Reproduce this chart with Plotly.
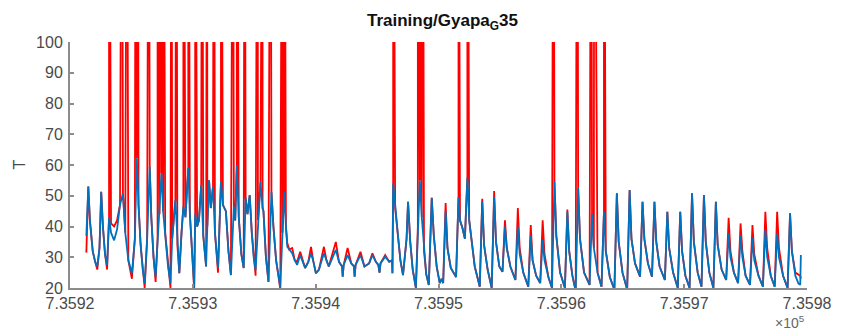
import plotly.graph_objects as go

DAY0 = 735920  # axis origin (serial day number)

x_tick_vals = [735920, 735930, 735940, 735950, 735960, 735970, 735980]
x_tick_text = ["7.3592", "7.3593", "7.3594", "7.3595", "7.3596", "7.3597", "7.3598"]
y_tick_vals = [20, 30, 40, 50, 60, 70, 80, 90, 100]

# (day offset, T) readings of the blue series
blue_seg1 = [
    (1.33, 37), (1.49, 53), (1.62, 42), (1.85, 32), (2.05, 28.5), (2.22, 27),
    (2.40, 33), (2.54, 51.3), (2.68, 40), (2.85, 31), (3.02, 27.5), (3.18, 43),
    (3.34, 38), (3.59, 35.5), (3.83, 39), (4.07, 47), (4.31, 50.8), (4.50, 38),
    (4.75, 29), (5.04, 24.8), (5.28, 36), (5.44, 62.2), (5.58, 47), (5.75, 34),
    (5.92, 26), (6.08, 21.6), (6.28, 36), (6.49, 59.4), (6.62, 43), (6.80, 30),
    (6.97, 23.7), (7.13, 36), (7.29, 44), (7.45, 57.4), (7.58, 45), (7.75, 38),
    (7.98, 27), (8.18, 21.6), (8.32, 36), (8.58, 48.6), (8.74, 34), (8.90, 24.8),
    (9.08, 38), (9.23, 46.5), (9.40, 43), (9.63, 59), (9.76, 44), (9.95, 30),
    (10.11, 20.4), (10.19, 44), (10.35, 40), (10.50, 42), (10.68, 53.5), (10.85, 37),
    (11.08, 27), (11.18, 40), (11.32, 55), (11.46, 46), (11.64, 53), (11.80, 38),
    (12.05, 26.5), (12.29, 54.6), (12.45, 47), (12.69, 45), (12.90, 32), (13.10, 24.2),
    (13.34, 46.5), (13.45, 42), (13.58, 60), (13.74, 43), (13.95, 31), (14.14, 26.5),
    (14.30, 49.3), (14.45, 44), (14.63, 50.2), (14.80, 38), (14.95, 30), (15.11, 25.8),
    (15.30, 42), (15.51, 54.6), (15.68, 46), (15.75, 45), (15.95, 30), (16.16, 22),
    (16.40, 51.3), (16.56, 40), (16.78, 29), (16.98, 23.5), (17.12, 20.4), (17.30, 38),
    (17.44, 51.3), (17.58, 40),
]

blue_gap = [
    (17.69, 33.4), (17.85, 32.5), (18.09, 31.3), (18.30, 29), (18.49, 27.5),
    (18.74, 30.7), (18.95, 28.5), (19.14, 26.5), (19.40, 28.5), (19.62, 31.3),
    (19.82, 28.5), (20.02, 24.8), (20.27, 26), (20.67, 31.3), (20.88, 29),
    (21.07, 27), (21.64, 32.4), (21.90, 28.5), (22.15, 27), (22.20, 23.7),
    (22.28, 27.5), (22.60, 30.7), (22.90, 28), (23.12, 27), (23.17, 23.7),
    (23.25, 27.5), (23.65, 30.7), (23.97, 27), (24.35, 28), (24.62, 30.7),
    (24.90, 28.5), (25.10, 27.5), (25.20, 25), (25.28, 28), (25.66, 30.2),
    (25.99, 28.5), (26.22, 29), (26.25, 24.8),
]

blue_seg3 = [
    (26.31, 54), (26.47, 46), (26.71, 36.7), (26.90, 29), (27.11, 24.2),
    (27.40, 36), (27.52, 48), (27.70, 35), (27.90, 26), (28.16, 20),
    (28.32, 40), (28.48, 55), (28.64, 43), (28.82, 32), (29.00, 24.5),
    (29.21, 21), (29.45, 49.3), (29.62, 37), (29.85, 27), (30.10, 21.6),
    (30.25, 23), (30.38, 21.6), (30.58, 45), (30.73, 33), (31.00, 26.5),
    (31.43, 23.6), (31.63, 49.6), (31.75, 42), (31.95, 39.5), (32.15, 36),
    (32.35, 56), (32.50, 42), (32.70, 36), (32.95, 27),
    (33.36, 20.4), (33.56, 48), (33.71, 34), (34.00, 26),
    (34.33, 20), (34.53, 49.7), (34.68, 35), (34.95, 27),
    (35.21, 25.3), (35.41, 40), (35.56, 33), (35.85, 27),
    (36.26, 22.6), (36.46, 40), (36.61, 31), (36.90, 25),
    (37.31, 20.4), (37.51, 37), (37.66, 29), (37.95, 24),
    (38.28, 21.6), (38.48, 35.6), (38.63, 29), (38.95, 23.5),
    (39.24, 20), (39.44, 54.6), (39.59, 37), (39.90, 25),
    (40.29, 20), (40.49, 44.8), (40.64, 32), (40.90, 24),
    (41.17, 19), (41.37, 52.5), (41.52, 36), (41.85, 25),
    (42.30, 21), (42.50, 44), (42.65, 33), (42.95, 25),
    (43.27, 20.4), (43.47, 44.8), (43.62, 32), (43.95, 23.5),
    (44.32, 19.5), (44.52, 50.8), (44.67, 35), (44.98, 25),
    (45.36, 19.5), (45.56, 51.9), (45.71, 36), (46.00, 28),
    (46.41, 23.7), (46.61, 48), (46.76, 36), (47.05, 28),
    (47.38, 23.7), (47.58, 48), (47.73, 35), (48.00, 27),
    (48.43, 22.6), (48.63, 44.8), (48.78, 33), (49.10, 25),
    (49.48, 20), (49.68, 44.8), (49.83, 32), (50.10, 24),
    (50.44, 20), (50.64, 50.8), (50.79, 35), (51.10, 25),
    (51.41, 20.4), (51.61, 50.2), (51.76, 35), (52.05, 25),
    (52.38, 20), (52.58, 48), (52.73, 34), (53.05, 26),
    (53.42, 22.6), (53.62, 37.8), (53.77, 30), (54.05, 25),
    (54.39, 21.6), (54.59, 37.2), (54.74, 30), (55.00, 24),
    (55.36, 21), (55.56, 36.2), (55.71, 29), (56.05, 24),
    (56.41, 20.4), (56.61, 38.9), (56.76, 30), (57.05, 24),
    (57.37, 20.4), (57.57, 37.8), (57.72, 30), (58.05, 24),
    (58.42, 20), (58.62, 44.3), (58.77, 32), (59.05, 24),
    (59.30, 21.5), (59.45, 21), (59.50, 30.7),
]

# red series readings where they differ from the blue series
red_diff = {
    1.33: 31.5, 2.22: 26, 3.02: 26, 3.34: 41, 3.59: 40, 3.83: 42, 5.04: 23,
    6.08: 20, 6.97: 22, 8.18: 20, 10.11: 19.5, 12.05: 25, 15.11: 24,
    17.12: 19.5, 17.69: 34.6, 18.09: 33, 18.49: 28.5, 18.74: 31.8,
    19.62: 33.4, 20.67: 33.4, 21.64: 35, 22.60: 33, 23.65: 31.8,
    24.62: 31.3, 25.66: 30.7, 30.58: 47.6, 33.56: 49, 34.53: 51.5,
    35.41: 42, 36.46: 46, 36.61: 33, 37.51: 40.5, 38.48: 42, 38.63: 31,
    40.49: 45.5, 53.62: 42.8, 53.77: 32, 54.59: 41, 54.74: 32,
    55.56: 40.5, 55.71: 31, 56.61: 44.8, 56.76: 33, 57.57: 44.8,
    57.72: 33, 59.05: 25, 59.30: 24.5, 59.45: 24, 59.50: 23,
}

# red spikes (values run off the top of the axes)
spike_days = [
    3.18, 4.23, 4.63, 5.36, 5.52, 6.41, 7.13, 7.29, 7.45, 7.61, 8.26, 8.66,
    9.23, 9.63, 10.19, 10.76, 11.16, 11.72, 12.29, 13.26, 13.58, 14.22,
    15.27, 15.67, 16.32, 17.28, 17.44, 26.31, 28.32, 28.48, 28.72, 31.63,
    32.35, 39.36, 41.30, 42.43, 42.67, 43.47,
]
spike_vals = [
    220, 210, 200, 230, 220, 215, 200, 220, 230, 210, 205, 200,
    210, 225, 200, 215, 205, 210, 220, 200, 230, 205,
    210, 200, 215, 205, 220, 230, 210, 220, 205, 215,
    225, 220, 215, 205, 210, 200,
]

blue_pts = blue_seg1 + blue_gap + blue_seg3
blue_x = [DAY0 + t for t, _ in blue_pts]
blue_y = [v for _, v in blue_pts]

red_pts = [(t, red_diff.get(t, v)) for t, v in blue_pts]
red_pts += list(zip(spike_days, spike_vals))
red_pts.sort(key=lambda p: p[0])
red_x = [DAY0 + t for t, _ in red_pts]
red_y = [v for _, v in red_pts]

FONT = "Liberation Sans, Arial, Helvetica, sans-serif"
AXC = "#8c8c8c"
TXC = "#4a4a4a"

fig = go.Figure()
fig.add_trace(go.Scatter(x=red_x, y=red_y, mode="lines",
                         line=dict(color="#ff0000", width=1.8), showlegend=False))
fig.add_trace(go.Scatter(x=blue_x, y=blue_y, mode="lines",
                         line=dict(color="#0072bd", width=1.8), showlegend=False))

axis_common = dict(
    showgrid=False, zeroline=False, showline=True, linecolor=AXC, linewidth=2,
    ticks="inside", ticklen=4, tickwidth=1.5, tickcolor=AXC, mirror=False,
    tickfont=dict(family=FONT, size=16, color=TXC),
)
fig.update_xaxes(range=[735920, 735980], tickvals=x_tick_vals, ticktext=x_tick_text,
                 ticklabelstandoff=0, **axis_common)
fig.update_yaxes(range=[20, 100], tickvals=y_tick_vals, ticklabelstandoff=2,
                 **axis_common)

fig.update_layout(
    width=844, height=332,
    margin=dict(l=70, r=29, t=42, b=44),
    plot_bgcolor="white", paper_bgcolor="white",
    title=dict(text="<b>Training/Gyapa<sub>G</sub>35</b>",
               x=(70 + 815) / 2 / 844, xanchor="center",
               y=1 - 20 / 332, yanchor="middle", yref="container",
               font=dict(family=FONT, size=17, color="#111111")),
    annotations=[
        dict(text="T", xref="paper", yref="paper", x=-52 / 745, y=0.5,
             textangle=-90, showarrow=False, xanchor="center", yanchor="middle",
             font=dict(family=FONT, size=16, color=TXC)),
        dict(text="×10<sup>5</sup>", xref="paper", yref="paper", x=1.0, y=-45 / 246,
             showarrow=False, xanchor="right", yanchor="bottom",
             font=dict(family=FONT, size=14, color="#666666")),
    ],
)

fig.write_html("out.html")
